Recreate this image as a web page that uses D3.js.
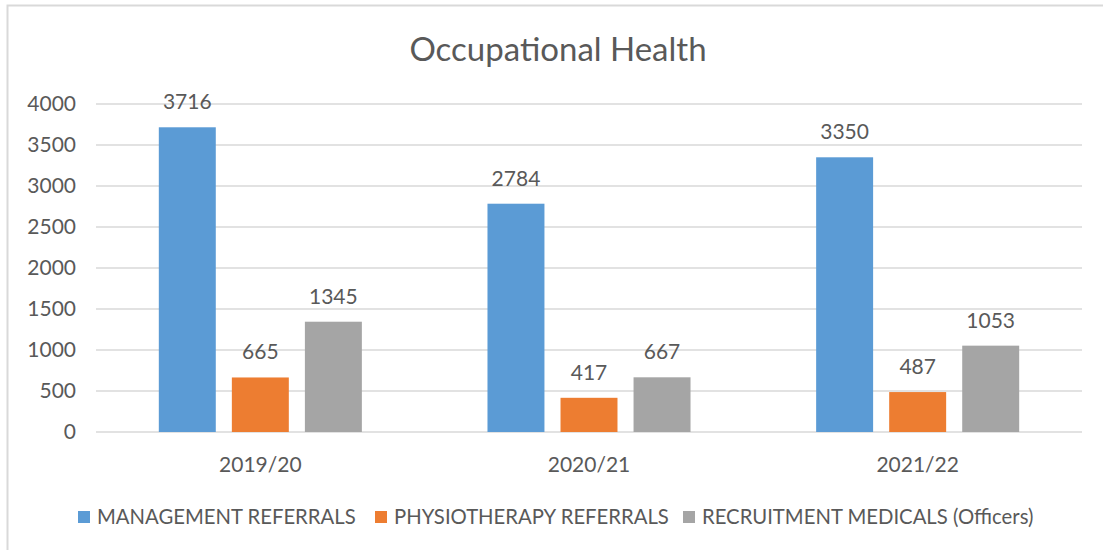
<!DOCTYPE html>
<html>
<head>
<meta charset="utf-8">
<script src="https://cdn.jsdelivr.net/npm/d3@7"></script>
<style>
  body { margin: 0; background: #fff; }
  text { font-family: Lato, "Open Sans", sans-serif; fill: #595959; }
</style>
</head>
<body>
<div class="chart"></div>
<script>
'use strict'
var years = ['2019/20', '2020/21', '2021/22']
var seriesNames = ['MANAGEMENT REFERRALS', 'PHYSIOTHERAPY REFERRALS', 'RECRUITMENT MEDICALS (Officers)']
var management = [3716, 2784, 3350]
var physio = [665, 417, 487]
var recruitment = [1345, 667, 1053]
var colors = ['#5B9BD5', '#ED7D31', '#A5A5A5']
var yTicks = [0, 500, 1000, 1500, 2000, 2500, 3000, 3500, 4000]

var width = 1103
var height = 550
var margin = { top: 104, right: 21, bottom: 118, left: 96 }
var series = [management, physio, recruitment]

var svg = d3.select('.chart').append('svg')
  .attr('width', width)
  .attr('height', height)

// chart frame (only top/left visible in the crop)
svg.append('rect')
  .attr('x', 7.5).attr('y', 5.5)
  .attr('width', width + 20).attr('height', height + 20)
  .attr('fill', '#fff')
  .attr('stroke', '#d9d9d9')
  .attr('stroke-width', 2)

svg.append('text')
  .attr('x', 558).attr('y', 61)
  .attr('text-anchor', 'middle')
  .style('font-size', '33px')
  .text('Occupational Health')

var x = d3.scaleBand().domain(years)
  .range([margin.left, width - margin.right])
var inner = d3.scaleBand().domain(d3.range(series.length))
  .range([0, x.bandwidth()])
  .paddingInner(0.22)
  .paddingOuter(0.86)
var y = d3.scaleLinear().domain([0, 4000])
  .range([height - margin.bottom, margin.top])

// gridlines
svg.append('g').selectAll('line')
  .data(yTicks)
  .enter().append('line')
  .attr('x1', margin.left).attr('x2', width - margin.right)
  .attr('y1', function (d) { return y(d) }).attr('y2', function (d) { return y(d) })
  .attr('stroke', '#d9d9d9')
  .attr('stroke-width', 1.5)

// y tick labels
svg.append('g').selectAll('text')
  .data(yTicks)
  .enter().append('text')
  .attr('x', 76)
  .attr('y', function (d) { return y(d) })
  .attr('dy', '0.35em')
  .attr('text-anchor', 'end')
  .style('font-size', '21px')
  .text(function (d) { return d })

// bars
series.forEach(function (vals, si) {
  var g = svg.append('g')
  g.selectAll('rect')
    .data(vals)
    .enter().append('rect')
    .attr('x', function (d, i) { return x(years[i]) + inner(si) })
    .attr('y', function (d) { return y(d) })
    .attr('width', inner.bandwidth())
    .attr('height', function (d) { return y(0) - y(d) })
    .attr('fill', colors[si])
  g.selectAll('text')
    .data(vals)
    .enter().append('text')
    .attr('x', function (d, i) { return x(years[i]) + inner(si) + inner.bandwidth() / 2 })
    .attr('y', function (d) { return y(d) - 18 })
    .attr('text-anchor', 'middle')
    .style('font-size', '21px')
    .text(function (d) { return d })
})

// x labels
svg.append('g').selectAll('text')
  .data(years)
  .enter().append('text')
  .attr('x', function (d) { return x(d) + x.bandwidth() / 2 })
  .attr('y', 472)
  .attr('text-anchor', 'middle')
  .style('font-size', '21px')
  .text(function (d) { return d })

// legend
var legendX = [78, 375, 683]
var legend = svg.append('g').selectAll('g')
  .data(seriesNames)
  .enter().append('g')
  .attr('transform', function (d, i) { return 'translate(' + legendX[i] + ',517)' })
legend.append('rect')
  .attr('x', 0).attr('y', -6)
  .attr('width', 12).attr('height', 12)
  .attr('fill', function (d, i) { return colors[i] })
legend.append('text')
  .attr('x', 19).attr('y', 0)
  .attr('dy', '0.35em')
  .style('font-size', '20.3px')
  .text(function (d) { return d })
</script>
</body>
</html>
